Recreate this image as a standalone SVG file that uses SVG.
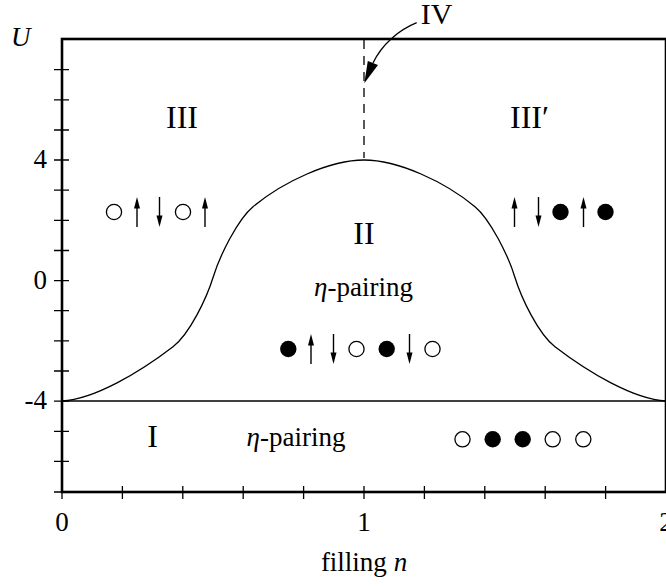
<svg xmlns="http://www.w3.org/2000/svg" width="666" height="586" viewBox="0 0 666 586">
<style>
.t{font-family:"Liberation Serif","DejaVu Serif",serif;fill:#000}
.lbl{font-size:27px}
.big{font-size:32px}
.ln{fill:none;stroke:#000;stroke-width:1.3}
.ax{fill:none;stroke:#000;stroke-width:2.6}
.oc{fill:#fff;stroke:#000;stroke-width:1.3}
.fc{fill:#000}
</style>
<defs>
<g id="up"><line x1="0" y1="15" x2="0" y2="-5" stroke="#000" stroke-width="1.4"/><polygon points="0,-15 -3,-3.5 3,-3.5" fill="#000"/></g>
<g id="dn"><line x1="0" y1="-15" x2="0" y2="5" stroke="#000" stroke-width="1.4"/><polygon points="0,15 -3,3.5 3,3.5" fill="#000"/></g>
<circle id="oc" r="7.6" class="oc"/>
<circle id="fc" r="8.2" class="fc"/>
</defs>
<rect width="666" height="586" fill="#fff"/>

<g id="frame">
<rect x="62" y="39" width="604" height="453" class="ax"/>
<line x1="62" y1="401" x2="666" y2="401" class="ln"/>
<line x1="364" y1="40" x2="364" y2="158" class="ln" stroke-dasharray="9 7"/>
</g>

<g id="ticks" stroke="#000" stroke-width="1.3">
<path d="M54,69.7H69M54,99.9H69M54,130H69M54,160H69M54,190.2H69M54,220.4H69M54,250.5H69M54,280.6H69M54,310.7H69M54,340.9H69M54,371H69M54,401.1H69M54,431.3H69M54,461.4H69M54,492H69"/>
<path d="M62,486V499M122.4,486V499M182.8,486V499M243.2,486V499M303.6,486V499M364,486V499M424.4,486V499M484.8,486V499M545.2,486V499M605.6,486V499"/>
</g>

<g id="tick-labels" class="t lbl">
<text x="47" y="168" text-anchor="end">4</text>
<text x="47" y="289" text-anchor="end">0</text>
<text x="47" y="409" text-anchor="end">-4</text>
<text x="62" y="531" text-anchor="middle">0</text>
<text x="364" y="531" text-anchor="middle">1</text>
<text x="666" y="531" text-anchor="middle">2</text>
<text x="11" y="46" font-style="italic">U</text>
<text x="364" y="571" text-anchor="middle">filling <tspan font-style="italic">n</tspan></text>
</g>

<g id="boundary">
<path class="ln" d="M62,401 C95,399 140,372 173,346.7 C189.5,334 206.6,298.4 213.3,276.7 C220,255 238,219.2 253,206.7 C283,181.7 330,160 364,160 C398,160 445,181.7 475,206.7 C490,219.2 508,255 514.7,276.7 C521.4,298.4 538.5,334 555,346.7 C588,372 633,399 666,401"/>
</g>

<g id="region-labels" class="t">
<text x="182" y="128" text-anchor="middle" class="big">III</text>
<text x="510" y="128" class="big">III′</text>
<text x="364" y="243.5" text-anchor="middle" class="big">II</text>
<text x="152.5" y="446.7" text-anchor="middle" class="big">I</text>
<text x="363.5" y="296" text-anchor="middle" class="lbl"><tspan font-style="italic">η</tspan>-pairing</text>
<text x="296" y="446" text-anchor="middle" class="lbl"><tspan font-style="italic">η</tspan>-pairing</text>
<text x="436.5" y="23.5" text-anchor="middle" style="font-size:30px">IV</text>
</g>

<g id="connectors">
<path class="ln" d="M416.7,22.7 C399,30 382,44 373,63"/>
<polygon points="364.3,83.3 378,65.1 367.8,60.9" fill="#000"/>
</g>

<g id="states-III">
<use href="#oc" x="114" y="212"/>
<use href="#up" x="137" y="212"/>
<use href="#dn" x="159.5" y="212"/>
<use href="#oc" x="183" y="212"/>
<use href="#up" x="205" y="212"/>
</g>
<g id="states-IIIp">
<use href="#up" x="514.5" y="212"/>
<use href="#dn" x="538.5" y="212"/>
<use href="#fc" x="560.5" y="212"/>
<use href="#up" x="583.5" y="212"/>
<use href="#fc" x="605.5" y="212"/>
</g>
<g id="states-II">
<use href="#fc" x="288.3" y="349"/>
<use href="#up" x="311" y="349"/>
<use href="#dn" x="333.5" y="349"/>
<use href="#oc" x="356.5" y="349"/>
<use href="#fc" x="386.7" y="349"/>
<use href="#dn" x="409.5" y="349"/>
<use href="#oc" x="432.5" y="349"/>
</g>
<g id="states-I">
<use href="#oc" x="462.5" y="439.3"/>
<use href="#fc" x="492.7" y="439.3"/>
<use href="#fc" x="522.7" y="439.3"/>
<use href="#oc" x="552.7" y="439.3"/>
<use href="#oc" x="583.3" y="439.3"/>
</g>
</svg>
